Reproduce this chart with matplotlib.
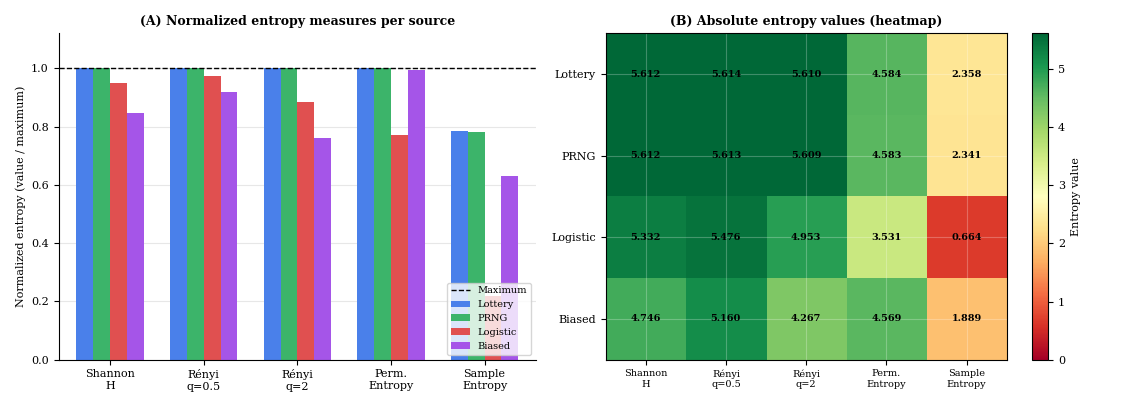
import numpy as np
import matplotlib.pyplot as plt

plt.rcParams['font.family'] = 'DejaVu Serif'

measures = ["Shannon\nH", "Rényi\nq=0.5", "Rényi\nq=2", "Perm.\nEntropy", "Sample\nEntropy"]
sources = ["Lottery", "PRNG", "Logistic", "Biased"]
colors = ["#4a80ea", "#3cb46a", "#e05050", "#a555e8"]

norm_lottery = [1.0, 1.0, 1.0, 1.0, 0.785]
norm_prng = [1.0, 1.0, 1.0, 1.0, 0.78]
norm_logistic = [0.95, 0.975, 0.883, 0.77, 0.22]
norm_biased = [0.845, 0.92, 0.76, 0.995, 0.63]

abs_lottery = [5.612, 5.614, 5.610, 4.584, 2.358]
abs_prng = [5.612, 5.613, 5.609, 4.583, 2.341]
abs_logistic = [5.332, 5.476, 4.953, 3.531, 0.664]
abs_biased = [4.746, 5.160, 4.267, 4.569, 1.889]

fig, (ax1, ax2) = plt.subplots(1, 2, figsize=(11.22, 4.07), dpi=100,
                               gridspec_kw={'width_ratios': [1, 1.05]})

x = np.arange(len(measures))
w = 0.18
for i, (vals, name) in enumerate(zip([norm_lottery, norm_prng, norm_logistic, norm_biased], sources)):
    ax1.bar(x + (i - 1.5) * w, vals, w, color=colors[i], label=name)
ax1.axhline(1.0, color='black', ls='--', lw=1, label='Maximum')
ax1.set_xticks(x)
ax1.set_xticklabels(measures, fontsize=8)
ax1.set_ylim(0, 1.12)
ax1.set_xlim(-0.55, 4.55)
ax1.tick_params(axis='y', labelsize=8)
ax1.set_ylabel("Normalized entropy (value / maximum)", fontsize=8)
ax1.set_title("(A) Normalized entropy measures per source", fontsize=9, fontweight='bold')
ax1.grid(axis='y', alpha=0.3)
ax1.set_axisbelow(True)
ax1.spines['top'].set_visible(False)
ax1.spines['right'].set_visible(False)
ax1.legend(loc='lower right', fontsize=7)

data = np.array([abs_lottery, abs_prng, abs_logistic, abs_biased])
im = ax2.imshow(data, cmap='RdYlGn', vmin=0, vmax=data.max(), aspect='auto')
for r in range(data.shape[0]):
    for c in range(data.shape[1]):
        ax2.text(c, r, f"{data[r, c]:.3f}", ha='center', va='center', fontsize=7, fontweight='bold')
ax2.set_xticks(range(len(measures)))
ax2.set_xticklabels(measures, fontsize=7)
ax2.set_yticks(range(len(sources)))
ax2.set_yticklabels(sources, fontsize=8)
ax2.grid(color='white', alpha=0.25)
ax2.set_title("(B) Absolute entropy values (heatmap)", fontsize=9, fontweight='bold')
cb = fig.colorbar(im, ax=ax2)
cb.set_label("Entropy value", fontsize=8)
cb.ax.tick_params(labelsize=8)

plt.tight_layout()
plt.savefig("out.png")
